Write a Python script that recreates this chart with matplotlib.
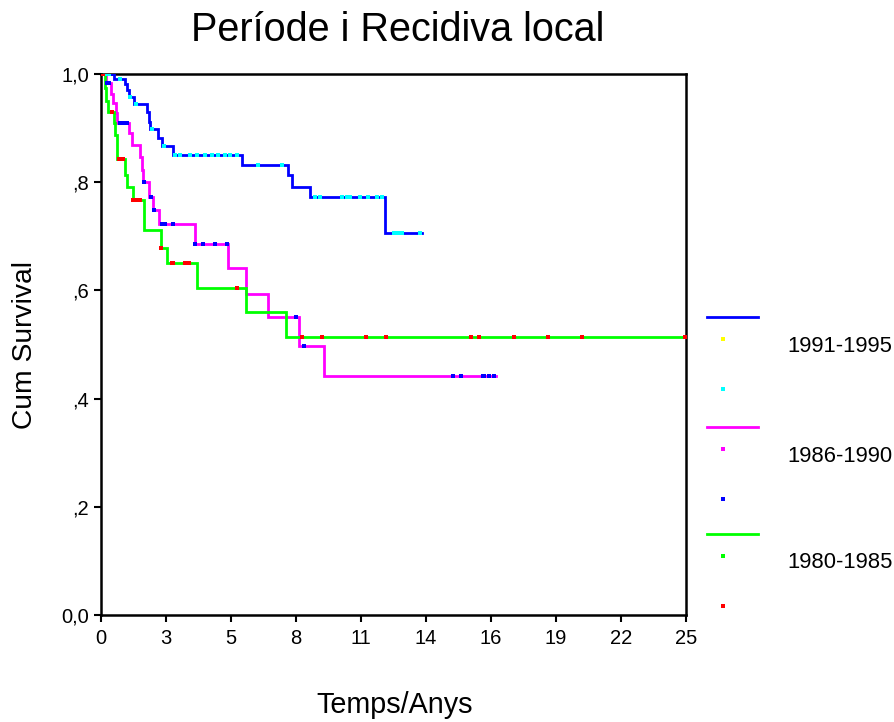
import numpy as np
import matplotlib.pyplot as plt
from matplotlib.lines import Line2D

plt.rcParams['font.family'] = ['Liberation Sans', 'DejaVu Sans']

# Kaplan-Meier step data (time in years, cumulative survival)
t_9195 = [0, 0.55, 1.03, 1.10, 1.20, 1.40, 1.97, 2.05, 2.10, 2.45, 2.60, 3.06, 6.04, 8.00, 8.15, 8.93, 12.14, 13.73]
s_9195 = [1.0, 0.990, 0.981, 0.970, 0.957, 0.945, 0.930, 0.912, 0.898, 0.881, 0.867, 0.850, 0.832, 0.813, 0.792, 0.773, 0.707, 0.707]
cens_t_9195 = [0.2, 0.35, 0.8, 1.25, 1.5, 2.2, 2.7, 3.16, 3.38, 3.8, 4.09, 4.44, 4.73, 5.01, 5.3, 5.51, 5.8,
               6.72, 7.72, 9.15, 9.36, 10.29, 10.5, 10.64, 11.07, 11.43, 11.78, 12.0, 12.5, 12.7, 12.85, 13.63]

t_8690 = [0, 0.20, 0.43, 0.53, 0.64, 0.67, 1.21, 1.31, 1.67, 1.74, 1.81, 2.07, 2.21, 2.49, 4.02, 5.44, 6.20, 7.15, 8.48, 9.53, 16.87]
s_8690 = [1.0, 0.984, 0.963, 0.946, 0.928, 0.910, 0.891, 0.868, 0.846, 0.822, 0.800, 0.773, 0.749, 0.722, 0.685, 0.642, 0.593, 0.550, 0.498, 0.442, 0.442]
cens_t_8690 = [0.25, 0.35, 0.8, 0.95, 1.1, 1.85, 2.12, 2.25, 2.59, 2.74, 3.09, 4.02, 4.37, 4.87, 5.37, 8.33, 8.69,
               15.03, 15.38, 16.31, 16.38, 16.57, 16.81]

t_8085 = [0, 0.15, 0.22, 0.30, 0.55, 0.60, 0.70, 1.03, 1.10, 1.35, 1.85, 2.56, 2.81, 4.09, 6.20, 7.90, 25.0]
s_8085 = [1.0, 0.975, 0.950, 0.930, 0.910, 0.888, 0.842, 0.813, 0.791, 0.767, 0.712, 0.678, 0.650, 0.605, 0.560, 0.513, 0.513]
cens_t_8085 = [0.1, 0.45, 0.75, 0.95, 1.38, 1.5, 1.65, 2.56, 3.02, 3.09, 3.59, 3.77, 5.8,
               8.6, 9.46, 11.31, 12.17, 15.81, 16.15, 17.66, 19.12, 20.57, 24.96]

groups = ['1991-1995', '1986-1990', '1980-1985']
line_colors = ['#0000ff', '#ff00ff', '#00ff00']
event_colors = ['#ffff00', '#ff00ff', '#00ff00']
cens_colors = ['#00ffff', '#0000ff', '#ff0000']

x_ticks = np.linspace(0, 25, 10)
x_labels = ['0', '3', '5', '8', '11', '14', '16', '19', '22', '25']
y_ticks = [0, 0.2, 0.4, 0.6, 0.8, 1.0]
y_labels = ['0,0', ',2', ',4', ',6', ',8', '1,0']


def surv_at(ts, ss, t):
    i = np.searchsorted(ts, t, side='right') - 1
    return ss[max(i, 0)]


fig = plt.figure(figsize=(8.94, 7.22), dpi=100)
ax = fig.add_axes([101 / 894, 1 - 615 / 722, 585 / 894, 541 / 722])

data = [(t_9195, s_9195, cens_t_9195), (t_8690, s_8690, cens_t_8690), (t_8085, s_8085, cens_t_8085)]
for (ts, ss, ct), lc, cc in zip(data, line_colors, cens_colors):
    ax.step(ts, ss, where='post', color=lc, lw=2.0, solid_joinstyle='miter', zorder=3)
    cy = [surv_at(ts, ss, c) for c in ct]
    ax.plot(ct, cy, ls='none', marker='s', ms=2.8, mew=0, color=cc, zorder=4)

ax.set_xlim(0, 25)
ax.set_ylim(0, 1.0)
ax.set_xticks(x_ticks)
ax.set_xticklabels(x_labels)
ax.set_yticks(y_ticks)
ax.set_yticklabels(y_labels)
ax.tick_params(direction='out', length=5, width=1.5, labelsize=14.5)
ax.tick_params(axis='x', pad=5)
for sp in ax.spines.values():
    sp.set_linewidth(1.8)

fig.text(398 / 894, 1 - 30 / 722, 'Període i Recidiva local', ha='center', va='center', fontsize=28.5)
fig.text(25 / 894, 1 - 345 / 722, 'Cum Survival', ha='center', va='center', rotation=90, fontsize=20.3)
fig.text(395 / 894, 1 - 705 / 722, 'Temps/Anys', ha='center', va='center', fontsize=20.7)

# legend drawn in pixel layout like the SPSS output
leg_y = [317, 427, 534]
for name, y0, lc, ec, cc in zip(groups, leg_y, line_colors, event_colors, cens_colors):
    fig.add_artist(Line2D([707 / 894, 758 / 894], [1 - y0 / 722] * 2, color=lc, lw=2.0))
    fig.add_artist(Line2D([723 / 894], [1 - (y0 + 22) / 722], marker='s', ms=2.8, mew=0, color=ec, ls='none'))
    fig.add_artist(Line2D([723 / 894], [1 - (y0 + 72) / 722], marker='s', ms=2.8, mew=0, color=cc, ls='none'))
    fig.text(787 / 894, 1 - (y0 + 29) / 722, name, ha='left', va='center', fontsize=15.8)

fig.savefig('out.png', dpi=100)
